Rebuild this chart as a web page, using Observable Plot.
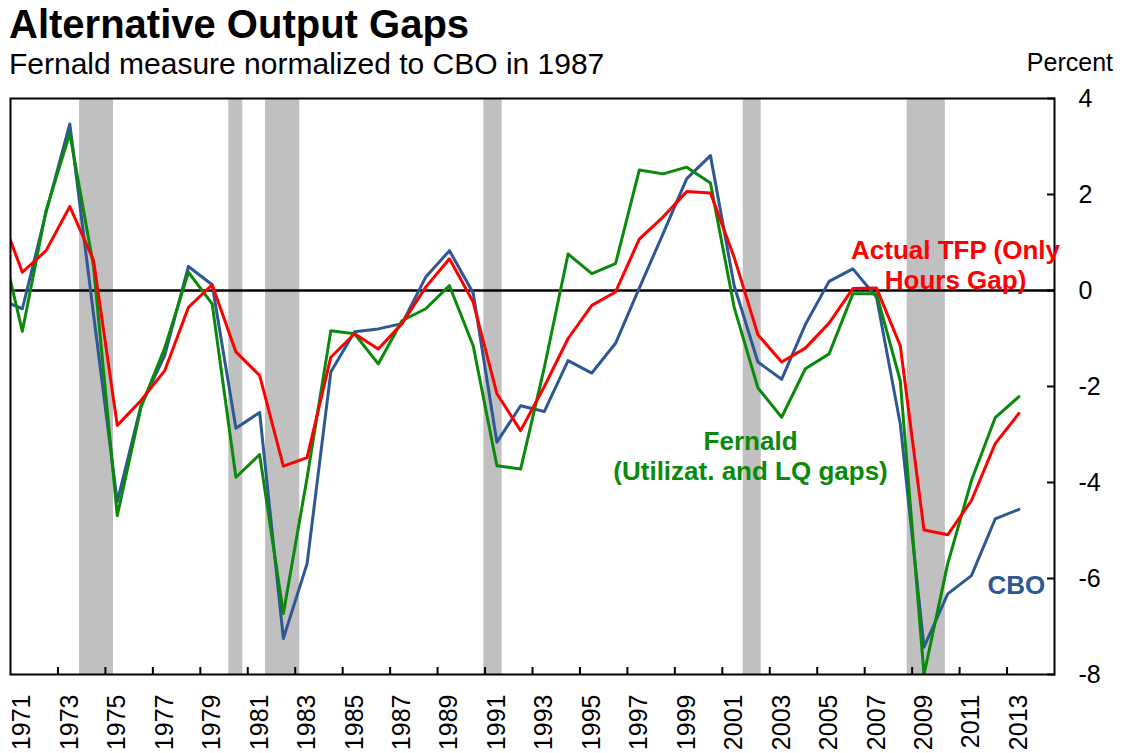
<!DOCTYPE html>
<html>
<head>
<meta charset="utf-8">
<script src="https://cdn.jsdelivr.net/npm/d3@7"></script>
<script src="https://cdn.jsdelivr.net/npm/@observablehq/plot@0.6"></script>
<style>
  html, body { margin: 0; padding: 0; background: #fff; }
  body { font-family: "Liberation Sans", Arial, Helvetica, sans-serif; color: #000; }
  #wrap { position: relative; width: 1125px; height: 753px; overflow: hidden; background: #fff; }
  #title { position: absolute; left: 9px; top: 4px; font-size: 40px; line-height: 40px; font-weight: bold; white-space: nowrap; }
  #subtitle { position: absolute; left: 9px; top: 49px; font-size: 30px; line-height: 30px; white-space: nowrap; }
  #unit { position: absolute; right: 12px; top: 50px; font-size: 25px; line-height: 25px; white-space: nowrap; }
  #chart { position: absolute; left: 0; top: 80px; }
</style>
</head>
<body>
<div id="wrap">
  <div id="title">Alternative Output Gaps</div>
  <div id="subtitle">Fernald measure normalized to CBO in 1987</div>
  <div id="unit">Percent</div>
  <div id="chart"></div>
</div>
<script>
// ---- Data ----
const years = [1970,1971,1972,1973,1974,1975,1976,1977,1978,1979,
               1980,1981,1982,1983,1984,1985,1986,1987,1988,1989,
               1990,1991,1992,1993,1994,1995,1996,1997,1998,1999,
               2000,2001,2002,2003,2004,2005,2006,2007,2008,2009,
               2010,2011,2012,2013];

const cbo = [-0.18,-0.38,1.63,3.47,-0.50,-4.40,-2.40,-1.35,0.50,0.12,
             -2.87,-2.54,-7.25,-5.69,-1.70,-0.86,-0.80,-0.69,0.28,0.83,
             -0.05,-3.16,-2.40,-2.52,-1.46,-1.72,-1.10,0.05,1.18,2.33,
             2.81,0.10,-1.49,-1.85,-0.71,0.19,0.45,-0.14,-2.78,-7.43,
             -6.32,-5.94,-4.76,-4.56];

const fernald = [1.25,-0.85,1.67,3.27,0.50,-4.69,-2.43,-1.20,0.38,-0.28,
                 -3.89,-3.42,-6.73,-3.90,-0.84,-0.90,-1.53,-0.63,-0.38,0.10,
                 -1.15,-3.65,-3.72,-1.60,0.76,0.35,0.56,2.51,2.43,2.57,
                 2.24,-0.35,-2.03,-2.64,-1.63,-1.32,-0.07,-0.07,-1.88,-8.00,
                 -5.69,-3.96,-2.65,-2.21];

const tfp = [1.70,0.38,0.83,1.75,0.63,-2.81,-2.29,-1.67,-0.35,0.12,
             -1.28,-1.77,-3.66,-3.48,-1.39,-0.90,-1.22,-0.69,0.07,0.66,
             -0.24,-2.15,-2.92,-2.00,-1.00,-0.31,-0.03,1.07,1.53,2.06,
             2.03,0.69,-0.92,-1.49,-1.20,-0.68,0.04,0.05,-1.15,-4.99,
             -5.09,-4.375,-3.19,-2.56];

// Recession shading (start / end, in chart year units)
const recessionStart = [1973.41, 1979.70, 1981.25, 1990.45, 2001.38, 2008.29];
const recessionEnd   = [1974.84, 1980.29, 1982.69, 1991.22, 2002.14, 2009.90];

// Axis ticks and labels
const xTickMarks = [1972.5,1974.5,1976.5,1978.5,1980.5,1982.5,1984.5,1986.5,1988.5,1990.5,
                    1992.5,1994.5,1996.5,1998.5,2000.5,2002.5,2004.5,2006.5,2008.5,2010.5,2012.5];
const xTickLabels = [1971,1973,1975,1977,1979,1981,1983,1985,1987,1989,1991,
                     1993,1995,1997,1999,2001,2003,2005,2007,2009,2011,2013];
const yTicks = [4, 2, 0, -2, -4, -6, -8];

// Series annotations (anchored in data units)
const labelTFP = [{text: "Actual TFP (Only\nHours Gap)", year: 2010.33, value: 0.55}];
const labelFernald = [{text: "Fernald\n(Utilizat. and LQ gaps)", year: 2001.69, value: -3.44}];
const labelCBO = [{text: "CBO", year: 2012.89, value: -6.15}];

const colors = {cbo: "#2D5893", fernald: "#0A890A", tfp: "#FF0000", shade: "#C0C0C0"};

// ---- Build tables ----
const toRows = (vals) => years.map((y, i) => ({year: y, value: vals[i]}));
const cboRows = toRows(cbo);
const fernaldRows = toRows(fernald);
const tfpRows = toRows(tfp);
const recessions = recessionStart.map((s, i) => ({start: s, end: recessionEnd[i]}));

const FONT = '"Liberation Sans", Arial, Helvetica, sans-serif';

const chart = Plot.plot({
  width: 1125,
  height: 673,
  marginTop: 18,
  marginBottom: 79,
  marginLeft: 10,
  marginRight: 71,
  style: {fontFamily: FONT, background: "white", color: "black", overflow: "visible"},
  x: {domain: [1970.5, 2014.5], axis: null, label: null},
  y: {domain: [-8, 4], axis: null, label: null},
  marks: [
    Plot.rect(recessions, {x1: "start", x2: "end", fill: colors.shade}),
    Plot.ruleY([0], {stroke: "black", strokeWidth: 2.6}),
    Plot.line(cboRows, {x: "year", y: "value", stroke: colors.cbo, strokeWidth: 3, clip: true}),
    Plot.line(fernaldRows, {x: "year", y: "value", stroke: colors.fernald, strokeWidth: 3, clip: true}),
    Plot.line(tfpRows, {x: "year", y: "value", stroke: colors.tfp, strokeWidth: 3, clip: true}),
    Plot.axisX({anchor: "bottom", ticks: xTickMarks, tickSize: 7, dy: -7, tickFormat: () => "",
                strokeWidth: 2, label: null}),
    Plot.axisX({anchor: "bottom", ticks: xTickLabels, tickSize: 0, tickRotate: -90, textAnchor: "end",
                tickPadding: 20, tickFormat: d => String(d), fontSize: 25, fill: "black", label: null}),
    Plot.axisY({anchor: "right", ticks: yTicks, tickSize: 8, dx: -8, tickPadding: 24,
                tickFormat: d => String(d), fontSize: 25, fill: "black", strokeWidth: 2, label: null}),
    Plot.frame({stroke: "black", strokeWidth: 2}),
    Plot.text(labelTFP, {x: "year", y: "value", text: "text", fill: colors.tfp, fontSize: 26, fontWeight: "bold",
                         lineHeight: 1.154, textAnchor: "middle", lineAnchor: "middle"}),
    Plot.text(labelFernald, {x: "year", y: "value", text: "text", fill: colors.fernald, fontSize: 26, fontWeight: "bold",
                             lineHeight: 1.154, textAnchor: "middle", lineAnchor: "middle"}),
    Plot.text(labelCBO, {x: "year", y: "value", text: "text", fill: colors.cbo, fontSize: 26, fontWeight: "bold",
                         textAnchor: "middle", lineAnchor: "middle"})
  ]
});

document.getElementById("chart").appendChild(chart);
</script>
</body>
</html>
